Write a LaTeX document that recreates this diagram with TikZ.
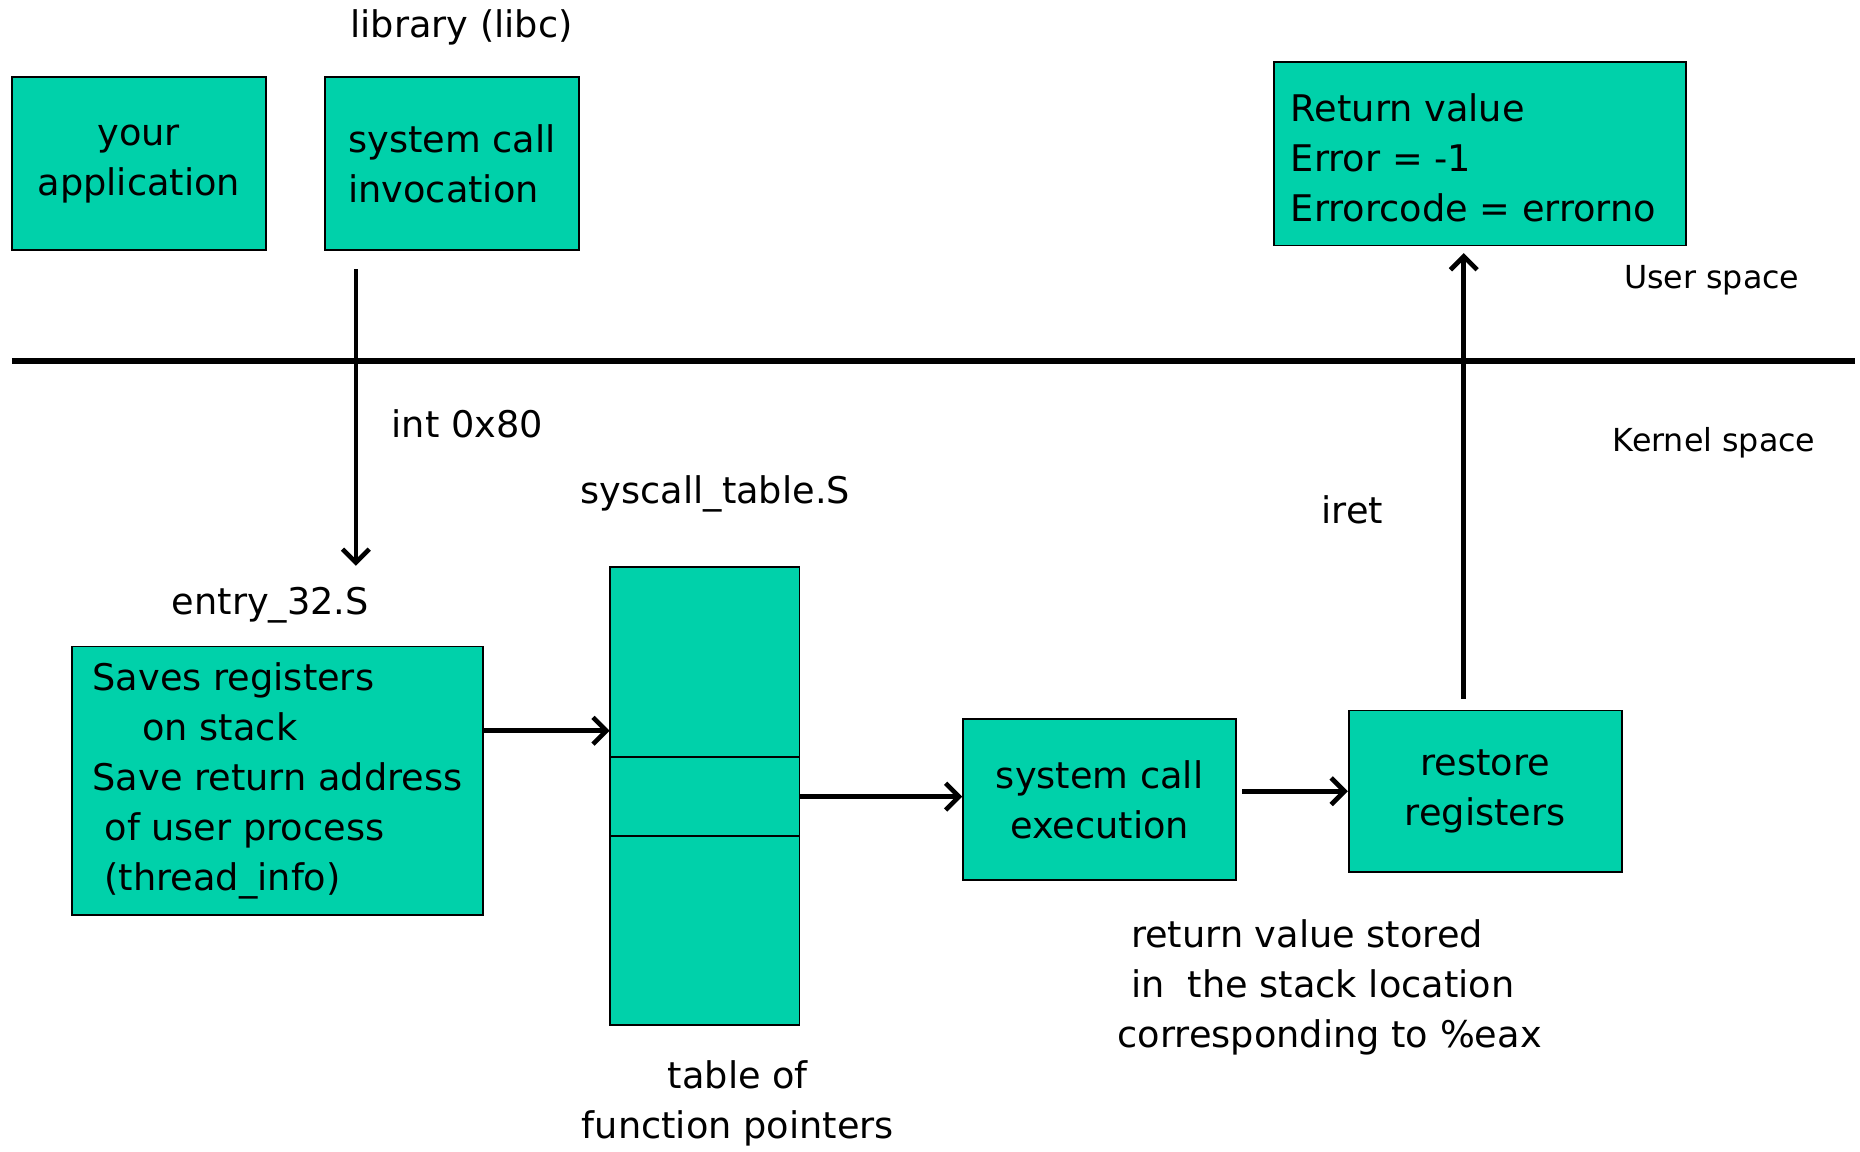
\documentclass[tikz,border=0pt]{standalone}
\usepackage{fontspec}
\setmainfont{DejaVu Sans}
\usepackage{tikz}
\usetikzlibrary{arrows.meta, calc}
\definecolor{boxgreen}{RGB}{0,209,170}

\begin{document}
\begin{tikzpicture}[x=0.025cm, y=-0.025cm,
				   every node/.style={font=\fontsize{22}{30}\selectfont, inner sep=0pt},
				   box/.style={draw=black, line width=1.1pt, fill=boxgreen, align=center},
				   cell/.style={box, outer sep=0pt, minimum width=4cm},
				   small/.style={font=\fontsize{19}{24}\selectfont},
				   arr/.style={line width=2.8pt, -{Straight Barb[length=8pt, width=16pt]}}]
\useasboundingbox (0,0) rectangle (1568,971);
\node[box, minimum width=5.35cm, minimum height=3.65cm] (app) at (117,138) {your\\application};
\node[box, align=left, minimum width=5.35cm, minimum height=3.65cm] (invoc) at (381,138) {system call\\invocation};
\node (lib) at (389,23) {library (libc)};
\node[box, minimum width=8.675cm, minimum height=3.875cm] (ret) at (1247.5,129.5) {};
\node[align=left, anchor=west] (rettxt) at (1088,133) {Return value\\Error = -1\\Errorcode = errorno};
\node[small] (user) at (1443,236) {User space};
\node[small] (kernel) at (1445,373) {Kernel space};
\draw[line width=3.5pt] (10,304) -- (1564,304);

\node (int) at (394,357) {int 0x80};
\node (systab) at (603,416) {syscall\_table.S};
\node (entrylbl) at (228,510) {entry\_32.S};
\node (iret) at (1140,430) {iret};

\node[box, align=left, minimum width=8.65cm, minimum height=5.65cm] (entry) at (234,658)
	{Saves registers\\\hspace*{1.05cm}on stack\\Save return address\\\hspace*{0.25cm}of user process\\\hspace*{0.25cm}(thread\_info)};

\node[cell, minimum height=4cm, anchor=north west] (tabtop) at (514,478) {};
\node[cell, minimum height=1.675cm, anchor=north] (tabmid) at (tabtop.south) {};
\node[cell, minimum height=3.975cm, anchor=north] (tabbot) at (tabmid.south) {};
\node[align=center] (tabcap) at (622,930) {table of\\function pointers};

\node[box, minimum width=5.75cm, minimum height=3.4cm] (exec) at (927,674) {system call\\execution};
\node[box, minimum width=5.75cm, minimum height=3.4cm] (rest) at (1252,667) {restore\\registers};
\node[align=left] (eax) at (1121,832)
	{\hspace*{0.28cm}return value stored\\\hspace*{0.28cm}in\ \ the stack location\\corresponding to \%eax};

\coordinate (trap) at (300,477);
\draw[arr, shorten <=0.375cm] (invoc.south -| trap) -- (trap);
\coordinate (tin) at ($(tabtop.south west)+(0,-22)$);
\draw[arr] (entry.east |- tin) -- (tin);
\draw[arr] (tabmid.east) -- (tabmid.east -| exec.west);
\draw[arr, shorten <=3pt] (rest.west -| exec.east) -- (rest.west);
\coordinate (up) at ($(rest.north)+(-18,-9)$);
\draw[arr, shorten >=4pt] (up) -- (up |- ret.south);
\end{tikzpicture}
\end{document}
